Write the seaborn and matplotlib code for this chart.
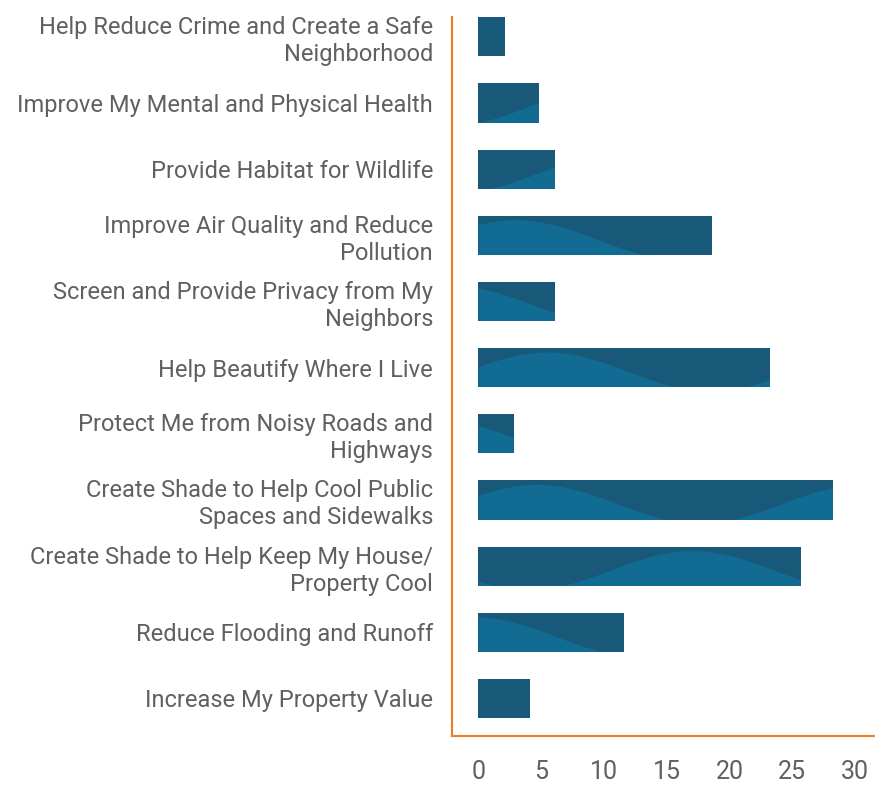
import numpy as np
import pandas as pd
import matplotlib
matplotlib.use("Agg")
import matplotlib.pyplot as plt
import seaborn as sns

# Data
labels = [
    "Help Reduce Crime and Create a Safe\nNeighborhood",
    "Improve My Mental and Physical Health",
    "Provide Habitat for Wildlife",
    "Improve Air Quality and Reduce\nPollution",
    "Screen and Provide Privacy from My\nNeighbors",
    "Help Beautify Where I Live",
    "Protect Me from Noisy Roads and\nHighways",
    "Create Shade to Help Cool Public\nSpaces and Sidewalks",
    "Create Shade to Help Keep My House/\nProperty Cool",
    "Reduce Flooding and Runoff",
    "Increase My Property Value",
]
values = [2.1, 4.8, 6.1, 18.6, 6.1, 23.2, 2.8, 28.2, 25.7, 11.6, 4.1]
xticks = [0, 5, 10, 15, 20, 25, 30]

df = pd.DataFrame({"reason": labels, "pct": values})

dark = "#18597a"
light = "#116b93"
orange = "#f07c22"
grey = "#5f6062"

sns.set_style("white")
plt.rcParams["font.family"] = ["Roboto", "DejaVu Sans"]

fig = plt.figure(figsize=(8.75, 7.87), dpi=100)
ax = fig.add_axes([0.517, 0.0648, 0.483, 0.9132])

sns.barplot(data=df, x="pct", y="reason", orient="h", color=dark,
            width=0.59, saturation=1, linewidth=0, ax=ax)

# decorative wave inside each bar (lighter tone)
phases = [1.57, 2.2, 2.0, 4.0, 5.2, 3.4, 5.6, 3.6, 0.6, 4.8, 1.2]
for bar, ph in zip(ax.patches, phases):
    y0 = bar.get_y()
    h = bar.get_height()
    xs = np.linspace(0, 32, 300)
    curve = y0 + h * (0.6 + 0.5 * np.sin(2 * np.pi * xs / 26 + ph))
    fb = ax.fill_between(xs, curve, y0 + h + 0.2, color=light, lw=0,
                         zorder=bar.get_zorder() + 0.1)
    fb.set_clip_path(bar.get_path(), bar.get_transform())

ax.set_xlim(-2.07, 31.58)
ax.set_ylim(10.567, -0.295)
ax.set_xticks(xticks)
ax.set_xticklabels([str(t) for t in xticks])
ax.set_xlabel("")
ax.set_ylabel("")

for s in ["top", "right"]:
    ax.spines[s].set_visible(False)
for s in ["left", "bottom"]:
    ax.spines[s].set_color(orange)
    ax.spines[s].set_linewidth(1.5)

ax.tick_params(axis="x", length=0, pad=17, labelsize=18, labelcolor=grey)
ax.tick_params(axis="y", length=0, pad=14, labelsize=17, labelcolor=grey)
for t in ax.get_yticklabels():
    t.set_linespacing(1.22)

fig.savefig("out.png", dpi=100)
